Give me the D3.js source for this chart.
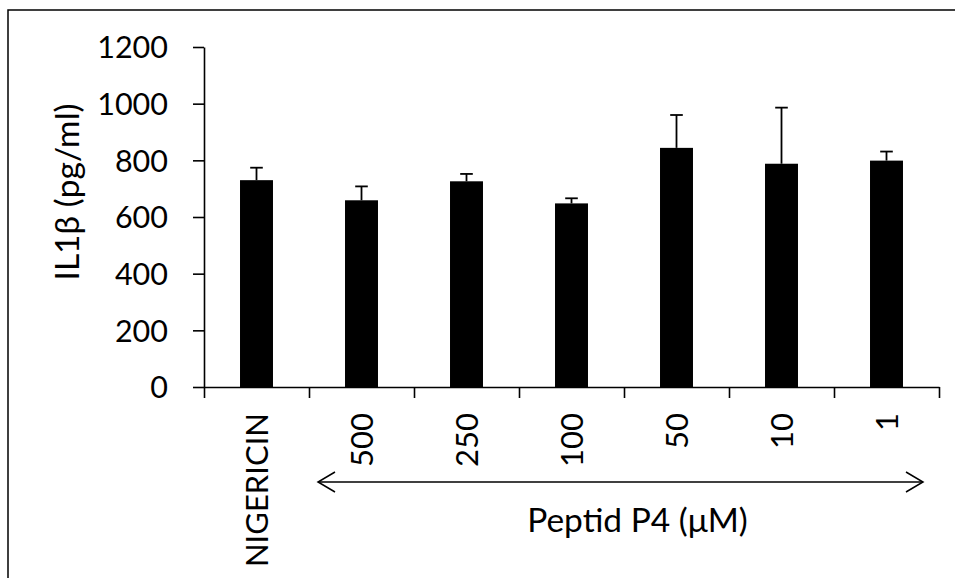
<!DOCTYPE html>
<html>
<head>
<meta charset="utf-8">
<script src="https://cdn.jsdelivr.net/npm/d3@7"></script>
<style>
  html, body { margin: 0; padding: 0; background: #fff; }
  svg { display: block; }
  text { font-family: Lato, "Open Sans", "DejaVu Sans", sans-serif; fill: #000; }
</style>
</head>
<body>
<svg id="chart" width="955" height="578"></svg>
<script>
// IL-1β release after nigericin, with and without peptide P4
const categories = ["NIGERICIN", "500", "250", "100", "50", "10", "1"];
const means      = [730, 659, 726, 648, 844, 788, 799];
const errors     = [44, 49, 26, 18, 116, 198, 32];
const yTicks     = [0, 200, 400, 600, 800, 1000, 1200];
const yTitle     = "IL1β (pg/ml)";
const xTitle     = "Peptid P4 (μM)";

const svg = d3.select("#chart");
const W = 955, H = 578;
const plot = { left: 204, right: 939, top: 47, bottom: 387 };
const TICK_FONT = 30.5, CAT_FONT = 31, TITLE_FONT = 33.5;

// outer frame (runs off the right and bottom edges)
svg.append("rect")
  .attr("x", 8).attr("y", 10)
  .attr("width", W + 20).attr("height", H + 20)
  .attr("fill", "none").attr("stroke", "#000").attr("stroke-width", 1.5);

const y = d3.scaleLinear().domain([0, 1200]).range([plot.bottom, plot.top]);
// slot scale: one unit per category, ticks fall on slot boundaries
const slot = d3.scaleLinear().domain([0, categories.length]).range([plot.left, plot.right]);
const step = slot(1) - slot(0);
const barW = step * 0.314;

// y axis
const yAxis = svg.append("g")
  .attr("transform", `translate(${plot.left},0)`)
  .call(d3.axisLeft(y).tickValues(yTicks).tickFormat(d3.format("d"))
    .tickSize(11).tickSizeOuter(0).tickPadding(25));
yAxis.selectAll("path, line").attr("stroke", "#000").attr("stroke-width", 1.6);
yAxis.selectAll("text")
  .style("font-size", TICK_FONT + "px")
  .style("font-family", 'Lato, "Open Sans", sans-serif')
  .attr("dy", "0.35em");

// x axis with ticks between categories
const xAxis = svg.append("g")
  .attr("transform", `translate(0,${plot.bottom})`)
  .call(d3.axisBottom(slot).tickValues(d3.range(0, categories.length + 1))
    .tickSize(11).tickSizeOuter(0).tickFormat(""));
xAxis.selectAll("path, line").attr("stroke", "#000").attr("stroke-width", 1.6);

// bars
const centers = categories.map((c, i) => slot(i + 0.5));
svg.append("g").selectAll("rect")
  .data(means)
  .join("rect")
  .attr("x", (d, i) => centers[i] - barW / 2)
  .attr("y", d => y(d))
  .attr("width", barW)
  .attr("height", d => y(0) - y(d))
  .attr("fill", "#000");

// upper error bars
const eb = svg.append("g").attr("stroke", "#000").attr("stroke-width", 1.8);
means.forEach((m, i) => {
  const cx = centers[i], top = y(m + errors[i]);
  eb.append("line").attr("x1", cx).attr("x2", cx).attr("y1", y(m)).attr("y2", top);
  eb.append("line").attr("x1", cx - 6.3).attr("x2", cx + 6.3).attr("y1", top).attr("y2", top);
});

// rotated category labels
svg.append("g").selectAll("text")
  .data(categories)
  .join("text")
  .attr("transform", (d, i) => `translate(${centers[i]},413) rotate(-90)`)
  .attr("text-anchor", "end")
  .attr("dy", "0.36em")
  .style("font-size", CAT_FONT + "px")
  .text(d => d);

// y title
svg.append("text")
  .attr("transform", "translate(79,192) rotate(-90)")
  .attr("text-anchor", "middle")
  .style("font-size", TITLE_FONT + "px")
  .text(yTitle);

// double-headed arrow spanning the peptide concentrations
const ax1 = slot(1) + 9, ax2 = slot(categories.length) - 16, ay = 482;
const arrow = svg.append("g").attr("fill", "none").attr("stroke", "#000").attr("stroke-width", 1.5);
arrow.append("line").attr("x1", ax1).attr("x2", ax2).attr("y1", ay).attr("y2", ay);
arrow.append("path").attr("d", `M${ax1 + 17},${ay - 10}L${ax1},${ay}L${ax1 + 17},${ay + 10}`);
arrow.append("path").attr("d", `M${ax2 - 17},${ay - 10}L${ax2},${ay}L${ax2 - 17},${ay + 10}`);

// x title
svg.append("text")
  .attr("x", 637.5).attr("y", 532)
  .attr("text-anchor", "middle")
  .style("font-size", TITLE_FONT + "px")
  .text(xTitle);
</script>
</body>
</html>
